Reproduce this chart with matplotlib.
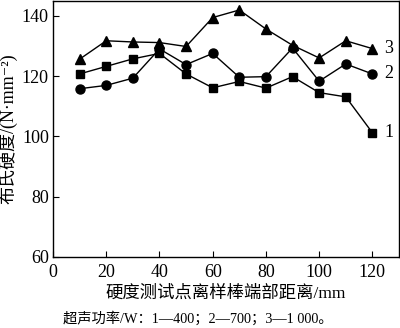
import matplotlib
matplotlib.use("Agg")
import matplotlib.pyplot as plt

plt.rcParams['font.family'] = ['Liberation Serif', 'Noto Sans CJK SC', 'DejaVu Serif']

x = [10, 20, 30, 40, 50, 60, 70, 80, 90, 100, 110, 120]
s1 = [120.7, 123.2, 125.7, 127.5, 120.7, 116.1, 118.2, 116.0, 119.8, 114.5, 113.1, 101.2]
s2 = [115.8, 116.9, 119.3, 129.0, 123.8, 127.5, 119.6, 119.8, 129.3, 118.3, 124.0, 120.7]
s3 = [125.6, 131.7, 131.3, 131.1, 129.8, 139.4, 141.9, 135.6, 130.2, 126.0, 131.7, 129.1]
series_labels = ["1", "2", "3"]
xticks = [0, 20, 40, 60, 80, 100, 120]
yticks = [60, 80, 100, 120, 140]

fig = plt.figure(figsize=(4.0, 3.28), dpi=100)
ax = fig.add_axes([0.1325, 0.2165, 0.8650, 0.7815])

ax.plot(x, s1, color='black', lw=1.0, marker='s', ms=6, zorder=3)
ax.plot(x, s2, color='black', lw=1.0, marker='o', ms=6.5, zorder=3)
ax.plot(x, s3, color='black', lw=1.0, marker='^', ms=7, zorder=3)

for ys, lab in zip([s1, s2, s3], series_labels):
    ax.text(x[-1] + 4.5, ys[-1], lab, fontsize=13, va='center', ha='left')

ax.set_xlim(0, 130)
ax.set_ylim(60, 145)
ax.set_xticks(xticks)
ax.set_yticks(yticks)
ax.tick_params(direction='in', length=4, width=0.8, labelsize=13)
ax.tick_params(axis='x', pad=5)
ax.tick_params(axis='y', pad=3)
for sp in ax.spines.values():
    sp.set_linewidth(1.0)

ax.set_xlabel('硬度测试点离样棒端部距离/mm', fontsize=12.5, labelpad=3)
ax.set_ylabel('布氏硬度/(N·mm⁻²)', fontsize=13, labelpad=3)

fig.text(0.158, 0.03, '超声功率/W：1—400；2—700；3—1 000。', fontsize=10.3, ha='left', va='center')

fig.savefig('out.png', dpi=100)
